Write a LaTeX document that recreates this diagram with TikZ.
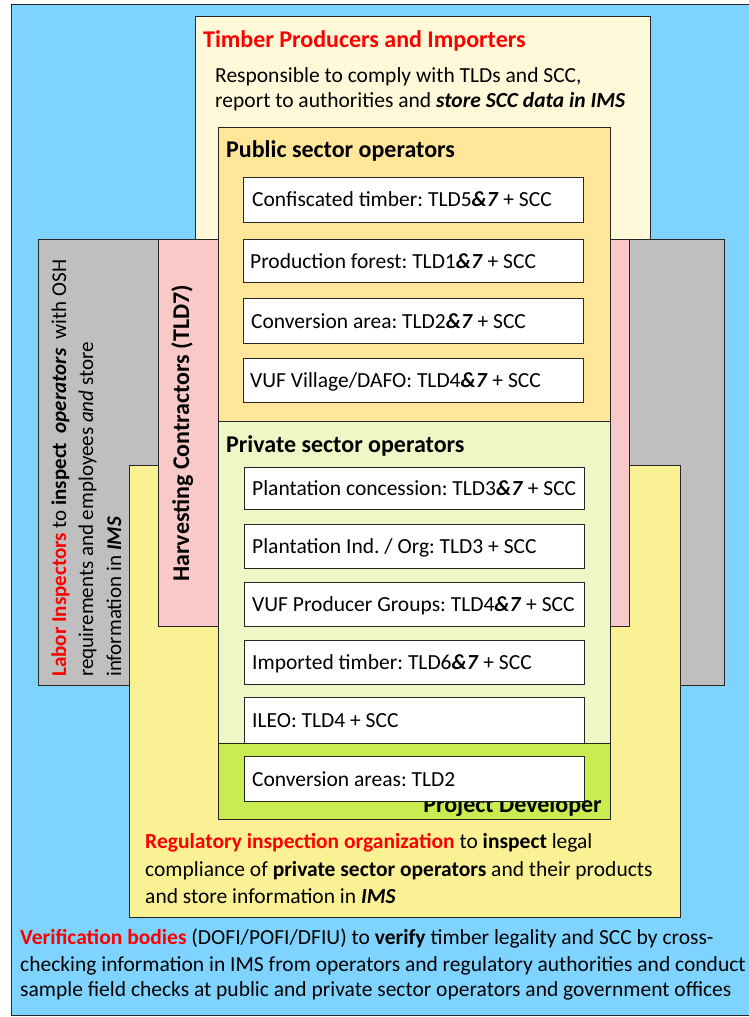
\documentclass[tikz,border=0pt]{standalone}
\usepackage{fontspec}
\setmainfont{Carlito}
\frenchspacing
\definecolor{bgblue}{HTML}{7FD3FF}
\definecolor{cream}{HTML}{FFF9DA}
\definecolor{grayb}{HTML}{BFBFBF}
\definecolor{yellowb}{HTML}{F9F193}
\definecolor{pinkb}{HTML}{F9C9C9}
\definecolor{pubb}{HTML}{FFE699}
\definecolor{privb}{HTML}{EEF8C6}
\definecolor{greenb}{HTML}{C9EC50}
\definecolor{redt}{HTML}{FF0000}
\newcommand{\bi}[1]{\textbf{\textit{#1}}}
\tikzset{
  area/.style={draw=black!85, line width=1pt},
  body/.style={font=\fontsize{21.5}{26}\selectfont, inner sep=0pt, anchor=base west},
  title/.style={font=\fontsize{24}{29}\selectfont\bfseries, inner sep=0pt, anchor=base west},
  vbody/.style={body, font=\fontsize{21}{26}\selectfont, rotate=90},
  wbox/.style={draw=black!85, line width=1pt, fill=white},
}
\begin{document}
\begin{tikzpicture}[x=1pt,y=-1pt]
\useasboundingbox (0,0) rectangle (748,1017);
% background
\fill[white] (0,0) rectangle (748,1017);
\draw[area, fill=bgblue] (11,4) rectangle (752,1015);
% timber producers (cream)
\draw[area, fill=cream] (195,16) rectangle (650,400);
% labor inspectors (gray)
\draw[area, fill=grayb] (38,239) rectangle (724,685);
% regulatory inspection (yellow)
\draw[area, fill=yellowb] (129,465) rectangle (680,917);
% harvesting contractors (pink)
\draw[area, fill=pinkb] (158,239) rectangle (629,626);
% public sector
\draw[area, fill=pubb] (218,127) rectangle (610,421);
% private sector
\draw[area, fill=privb] (218,421) rectangle (610,743);

% texts of outer areas
\node[title, text=redt] (tpi) at (203,47) {Timber Producers and Importers};
\node[body] (tpi1) at (215,82) {Responsible to comply with TLDs and SCC,};
\node[body] (tpi2) at (215,107) {report to authorities and \bi{store SCC data in IMS}};

\node[vbody] (lab1) at (66,677) {{\color{redt}\textbf{Labor Inspectors}} to \textbf{inspect}\ \ \bi{operators}\ \ with OSH};
\node[vbody] (lab2) at (93,677) {requirements and employees \textit{and} store};
\node[vbody] (lab3) at (121,677) {information in \bi{IMS}};

\node[title, rotate=90] (hc) at (189,582) {Harvesting Contractors (TLD7)};

\node[title] (pub) at (226,157) {Public sector operators};
\node[title] (priv) at (226,452) {Private sector operators};

% public boxes
\draw[wbox] (243,177) rectangle (583,222);
\node[body] (b1) at (252,206) {Confiscated timber: TLD5\bi{\&7} + SCC};
\draw[wbox] (243,239) rectangle (583,282);
\node[body] (b2) at (250,268) {Production forest: TLD1\bi{\&7} + SCC};
\draw[wbox] (243,298) rectangle (583,343);
\node[body] (b3) at (251,328) {Conversion area: TLD2\bi{\&7} + SCC};
\draw[wbox] (243,358) rectangle (583,402);
\node[body] (b4) at (250,387) {VUF Village/DAFO: TLD4\bi{\&7} + SCC};

% private boxes
\draw[wbox] (244,467) rectangle (584,509);
\node[body] (b5) at (252,495) {Plantation concession: TLD3\bi{\&7} + SCC};
\draw[wbox] (244,524) rectangle (584,568);
\node[body] (b6) at (252,553) {Plantation Ind. / Org: TLD3 + SCC};
\draw[wbox] (244,582) rectangle (584,626);
\node[body] (b7) at (252,611) {VUF Producer Groups: TLD4\bi{\&7} + SCC};
\draw[wbox] (244,640) rectangle (584,684);
\node[body] (b8) at (252,669) {Imported timber: TLD6\bi{\&7} + SCC};
\draw[wbox] (244,697) rectangle (584,743);
\node[body] (b9) at (252,727) {ILEO: TLD4 + SCC};

% project developer
\draw[area, fill=greenb] (218,743) rectangle (610,819);
\node[title, anchor=base east] (pd) at (602,812) {Project Developer};
\draw[wbox] (244,756) rectangle (584,801);
\node[body] (b10) at (252,786) {Conversion areas: TLD2};

% regulatory text
\node[body] (reg1) at (145,848) {{\color{redt}\textbf{Regulatory inspection organization}} to \textbf{inspect} legal};
\node[body] (reg2) at (145,876) {compliance of \textbf{private sector operators} and their products};
\node[body] (reg3) at (145,903) {and store information in \bi{IMS}};

% verification text
\node[body] (ver1) at (20,944) {{\color{redt}\textbf{Verification bodies}} (DOFI/POFI/DFIU) to \textbf{verify} timber legality and SCC by cross-};
\node[body] (ver2) at (20,971) {checking information in IMS from operators and regulatory authorities and conduct};
\node[body] (ver3) at (20,996) {sample field checks at public and private sector operators and government offices};
\end{tikzpicture}
\end{document}
